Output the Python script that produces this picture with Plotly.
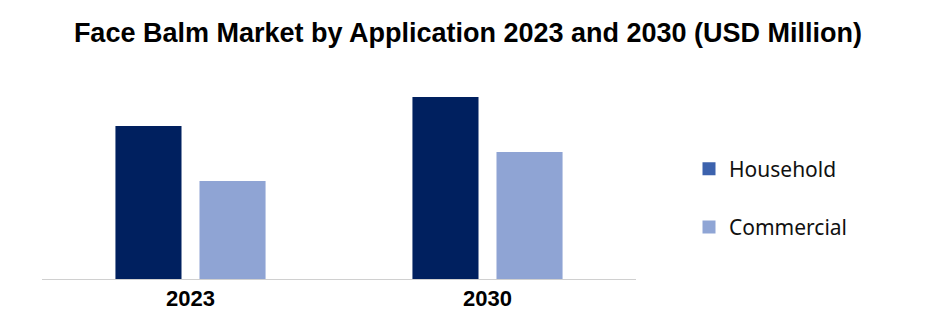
import plotly.graph_objects as go

categories = ["2023", "2030"]
household = [153, 182]   # estimated, relative units
commercial = [98, 127]   # estimated, relative units
series_names = ["Household", "Commercial"]

bar_colors = ["#00205F", "#8FA4D4"]
legend_colors = ["#3C62AD", "#8FA5D5"]

fig = go.Figure()
for name, vals, c in zip(series_names, [household, commercial], bar_colors):
    fig.add_trace(go.Bar(x=categories, y=vals, name=name, marker_color=c,
                         marker_line_width=0, showlegend=False))
for i, (name, c) in enumerate(zip(series_names, legend_colors)):
    fig.add_trace(go.Scatter(x=[None], y=[None], mode="markers", name=name,
                             legendgroup=f"g{i}",
                             marker=dict(symbol="square", size=13, color=c)))

fig.update_layout(
    width=941, height=324,
    margin=dict(l=42, r=305, t=80, b=45),
    paper_bgcolor="white", plot_bgcolor="white",
    barmode="group", bargap=0.434, bargroupgap=0.214,
    title=dict(text="<b>Face Balm Market by Application 2023 and 2030 (USD Million)</b>",
               x=468 / 941, xref="container", xanchor="center",
               y=1 - 33 / 324, yref="container", yanchor="middle",
               font=dict(family="Liberation Sans, Arial", size=27, color="black")),
    legend=dict(x=689 / 941, xref="container", xanchor="left",
                y=1 - 198 / 324, yref="container", yanchor="middle",
                traceorder="grouped", tracegroupgap=28,
                font=dict(family="Noto Sans", size=21, color="#111111"),
                itemwidth=30),
    showlegend=True,
)
fig.update_xaxes(showline=True, linecolor="#D0D0D0", linewidth=1,
                 ticks="", tickfont=dict(family="Liberation Sans, Arial", size=22, color="black"),
                 tickprefix="<b>", ticksuffix="</b>")
fig.update_yaxes(range=[0, 199], visible=False, showgrid=False, zeroline=False)

fig.write_html("out.html")
